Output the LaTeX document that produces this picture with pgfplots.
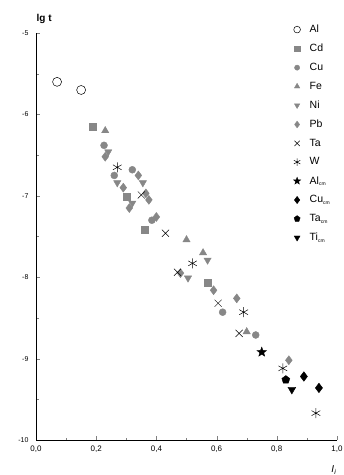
\documentclass[border=0pt]{standalone}
\usepackage{pgfplots}
\pgfplotsset{compat=1.18}
\usepackage{fontspec}
\setmainfont{Liberation Sans}
\definecolor{gcol}{RGB}{135,135,135}
\pgfdeclareplotmark{fstar}{%
  \pgfpathmoveto{\pgfpointpolar{90}{\pgfplotmarksize}}%
  \pgfpathlineto{\pgfpointpolar{126}{0.42\pgfplotmarksize}}%
  \pgfpathlineto{\pgfpointpolar{162}{\pgfplotmarksize}}%
  \pgfpathlineto{\pgfpointpolar{198}{0.42\pgfplotmarksize}}%
  \pgfpathlineto{\pgfpointpolar{234}{\pgfplotmarksize}}%
  \pgfpathlineto{\pgfpointpolar{270}{0.42\pgfplotmarksize}}%
  \pgfpathlineto{\pgfpointpolar{306}{\pgfplotmarksize}}%
  \pgfpathlineto{\pgfpointpolar{342}{0.42\pgfplotmarksize}}%
  \pgfpathlineto{\pgfpointpolar{18}{\pgfplotmarksize}}%
  \pgfpathlineto{\pgfpointpolar{54}{0.42\pgfplotmarksize}}%
  \pgfpathclose
  \pgfusepathqfillstroke}
\begin{document}
\begin{tikzpicture}
\useasboundingbox (0pt,0pt) rectangle (344pt,475pt);
\begin{axis}[
  at={(36pt,35pt)}, anchor=south west,
  scale only axis, width=301pt, height=407pt,
  xmin=0, xmax=1, ymin=-10, ymax=-5,
  axis lines*=left,
  axis line style={line width=0.9pt},
  tick align=inside,
  major tick length=4pt, minor tick length=2.5pt,
  xtick={0,0.2,...,1.0}, minor xtick={0.1,0.3,0.5,0.7,0.9},
  ytick={-10,-9,-8,-7,-6,-5}, minor ytick={-9.5,-8.5,-7.5,-6.5,-5.5},
  /pgf/number format/.cd, use comma, fixed, fixed zerofill, precision=1,
  /pgfplots/.cd,
  yticklabel style={/pgf/number format/precision=0, /pgf/number format/fixed zerofill=false, font=\fontsize{7}{8}\selectfont, xshift=-4pt},
  xticklabel style={font=\fontsize{8}{9}\selectfont, yshift=-2pt},
  /pgf/number format/assume math mode=true,
  xlabel={\textit{I}\textsubscript{\textit{i}}},
  xlabel style={at={(axis description cs:0.99,-0.055)}, anchor=north, font=\fontsize{10}{10}\selectfont},
  ylabel={\textbf{lg t}},
  ylabel style={at={(axis description cs:0.027,1.034)}, anchor=center, rotate=-90, font=\fontsize{10}{10}\selectfont},
  legend cell align=left,
  legend image post style={scale=0.75},
  legend style={at={(axis description cs:0.855,1.025)}, anchor=north west, draw=none, fill=none,
    font=\fontsize{10.5}{11}\selectfont, row sep=6pt, inner sep=0pt,
    /tikz/every odd column/.append style={column sep=7pt}},
  clip=false,
]
\addplot[only marks, mark=o, mark size=4.5pt, black, line width=0.5pt] coordinates {(0.07,-5.60) (0.15,-5.70)};
\addlegendentry{Al}
\addplot[only marks, mark=square*, mark size=3.5pt, gcol] coordinates {(0.19,-6.15) (0.36,-7.42) (0.30,-7.01) (0.57,-8.07)};
\addlegendentry{Cd}
\addplot[only marks, mark=*, mark size=3.5pt, gcol] coordinates {(0.226,-6.38) (0.26,-6.75) (0.32,-6.68) (0.385,-7.30) (0.62,-8.43) (0.73,-8.71)};
\addlegendentry{Cu}
\addplot[only marks, mark=triangle*, mark size=4.2pt, gcol] coordinates {(0.23,-6.20) (0.50,-7.54) (0.555,-7.70) (0.70,-8.67)};
\addlegendentry{Fe}
\addplot[only marks, mark=triangle*, mark options={rotate=180}, mark size=4.2pt, gcol] coordinates {(0.24,-6.46) (0.27,-6.84) (0.355,-6.84) (0.32,-7.09) (0.57,-7.79) (0.505,-8.01)};
\addlegendentry{Ni}
\addplot[only marks, mark=diamond*, mark size=4.5pt, gcol] coordinates {(0.23,-6.52) (0.29,-6.90) (0.34,-6.75) (0.365,-6.97) (0.375,-7.05) (0.31,-7.15) (0.40,-7.26) (0.48,-7.95) (0.59,-8.16) (0.667,-8.26) (0.84,-9.02)};
\addlegendentry{Pb}
\addplot[only marks, mark=x, mark size=5pt, black, line width=0.5pt] coordinates {(0.35,-6.99) (0.43,-7.46) (0.47,-7.94) (0.605,-8.32) (0.675,-8.69)};
\addlegendentry{Ta}
\addplot[only marks, mark=asterisk, mark size=5pt, black, line width=0.5pt] coordinates {(0.27,-6.65) (0.52,-7.83) (0.69,-8.43) (0.82,-9.12) (0.93,-9.67)};
\addlegendentry{W}
\addplot[only marks, mark=fstar, mark size=5pt, black] coordinates {(0.75,-8.92)};
\addlegendentry{Al\textsubscript{\tiny cm}}
\addplot[only marks, mark=diamond*, mark size=4.8pt, black] coordinates {(0.89,-9.22) (0.94,-9.36)};
\addlegendentry{Cu\textsubscript{\tiny cm}}
\addplot[only marks, mark=pentagon*, mark size=4.2pt, black] coordinates {(0.83,-9.26)};
\addlegendentry{Ta\textsubscript{\tiny cm}}
\addplot[only marks, mark=triangle*, mark options={rotate=180}, mark size=4.5pt, black] coordinates {(0.85,-9.38)};
\addlegendentry{Ti\textsubscript{\tiny cm}}
\end{axis}
\end{tikzpicture}
\end{document}
